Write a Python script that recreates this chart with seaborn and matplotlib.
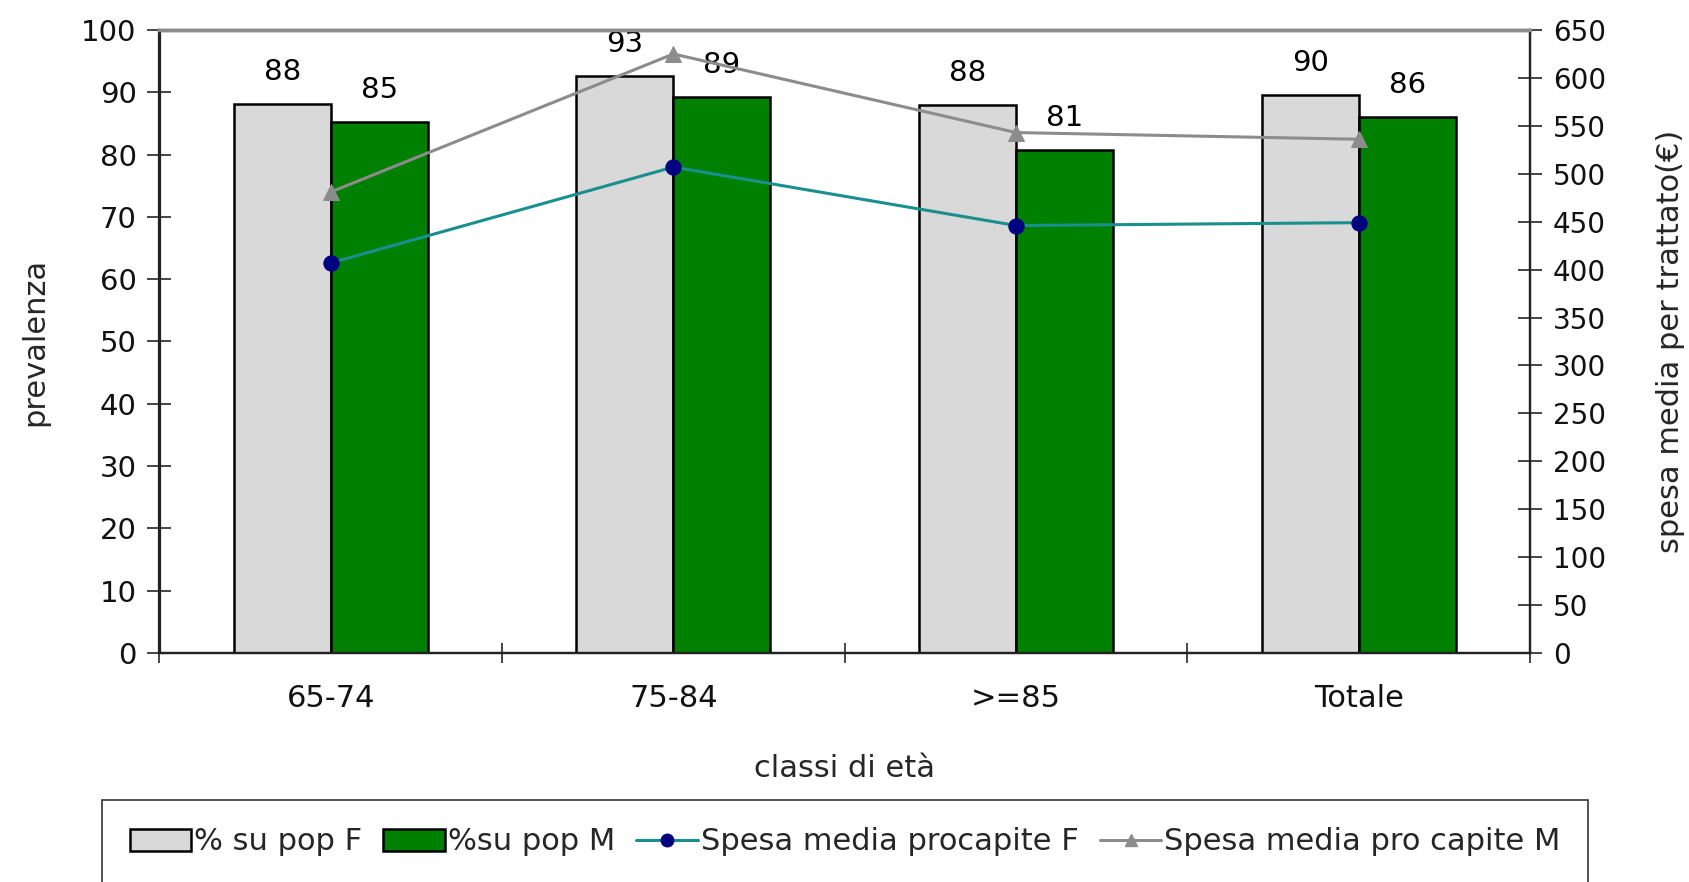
import matplotlib
matplotlib.use("Agg")
import matplotlib.pyplot as plt
import seaborn as sns
import pandas as pd
import numpy as np
from matplotlib.patches import Patch
from matplotlib.lines import Line2D

categories = ["65-74", "75-84", ">=85", "Totale"]
prev_F = [88.2, 92.6, 88.0, 89.6]
prev_M = [85.2, 89.3, 80.7, 86.1]
spesa_F = [407, 507, 446, 449]
spesa_M = [481, 625, 543, 536]
left_ticks = list(range(0, 101, 10))
right_ticks = list(range(0, 651, 50))

sns.set_theme(style="white")
plt.rcParams['font.family'] = ['DejaVu Sans']

fig = plt.figure(figsize=(16.9, 8.82), dpi=100)
ax = fig.add_axes([159.5/1690, 1-653/882, (1530-159.5)/1690, (653-30)/882])

df = pd.DataFrame({
    "cat": categories * 2,
    "val": prev_F + prev_M,
    "serie": ["% su pop F"] * 4 + ["%su pop M"] * 4,
})
sns.barplot(data=df, x="cat", y="val", hue="serie", order=categories,
            palette=["#d9d9d9", "#008000"], width=0.566, gap=0,
            edgecolor="black", linewidth=1.8, ax=ax, legend=False, saturation=1)

for cont in ax.containers:
    for bar in cont:
        h = bar.get_height()
        ax.annotate(f"{h:.0f}", (bar.get_x() + bar.get_width()/2, h),
                    xytext=(0, 23), textcoords="offset points",
                    ha="center", va="center", fontsize=21, color="black")

ax.set_xlim(-0.5, 3.5)
ax.set_ylim(0, 100)
ax.set_yticks(left_ticks)
ax.set_ylabel("prevalenza", fontsize=22, labelpad=23)
ax.set_xlabel("classi di età", fontsize=22, labelpad=30)
ax.tick_params(axis="y", labelsize=21, direction="inout", length=17, width=1.2, left=True, pad=8,
               labelcolor="#111111")
ax.set_xticks(range(4))
ax.set_xticklabels(categories, fontsize=22, color="#111111")
ax.tick_params(axis="x", which="major", length=0, pad=22)
ax.set_xticks(np.arange(-0.5, 4, 1), minor=True)
ax.tick_params(axis="x", which="minor", direction="inout", length=14, width=1.2, bottom=True)

ax2 = ax.twinx()
ldf = pd.DataFrame({"x": list(range(4)) * 2,
                    "y": spesa_F + spesa_M,
                    "s": ["F"] * 4 + ["M"] * 4})
sns.lineplot(data=ldf[ldf.s == "F"], x="x", y="y", ax=ax2, color="#1a8f8f",
             linewidth=2.2, marker="o", markersize=11, markerfacecolor="#000080",
             markeredgecolor="#000080", sort=False, legend=False)
sns.lineplot(data=ldf[ldf.s == "M"], x="x", y="y", ax=ax2, color="#8c8c8c",
             linewidth=2.2, marker="^", markersize=11, markerfacecolor="#8c8c8c",
             markeredgecolor="#8c8c8c", sort=False, legend=False)
ax2.set_xlim(-0.5, 3.5)
ax2.set_ylim(0, 650)
ax2.set_yticks(right_ticks)
ax2.tick_params(axis="y", labelsize=20, direction="inout", length=17, width=1.2, right=True, pad=8,
                labelcolor="#111111")
ax2.set_ylabel("spesa media per trattato(€)", fontsize=22, labelpad=36)
ax2.set_xlabel("")
ax2.grid(False)
ax.grid(False)

for a in (ax, ax2):
    a.spines["left"].set_color("#222222")
    a.spines["right"].set_color("#222222")
    a.spines["bottom"].set_color("#222222")
    a.spines["top"].set_color("#8c8c8c")
    for s in a.spines.values():
        s.set_linewidth(1.6)
    a.spines["top"].set_linewidth(2.5)

handles = [
    Patch(facecolor="#d9d9d9", edgecolor="black", linewidth=1.8, label="% su pop F"),
    Patch(facecolor="#008000", edgecolor="black", linewidth=1.8, label="%su pop M"),
    Line2D([0], [0], color="#1a8f8f", lw=2.2, marker="o", markersize=9,
           markerfacecolor="#000080", markeredgecolor="#000080", label="Spesa media procapite F"),
    Line2D([0], [0], color="#8c8c8c", lw=2.2, marker="^", markersize=9,
           markerfacecolor="#8c8c8c", markeredgecolor="#8c8c8c", label="Spesa media pro capite M"),
]
leg = fig.legend(handles=handles, loc="upper center", ncol=4,
                 bbox_to_anchor=(102/1690, 0, 1486/1690, 1-800/882), mode="expand",
                 fontsize=22, frameon=True, fancybox=False, borderpad=0.9,
                 handlelength=2.0, handletextpad=0.1, columnspacing=0.8, borderaxespad=0)
leg.get_frame().set_edgecolor("black")
leg.get_frame().set_linewidth(1.2)

fig.savefig("out.png", dpi=100)
